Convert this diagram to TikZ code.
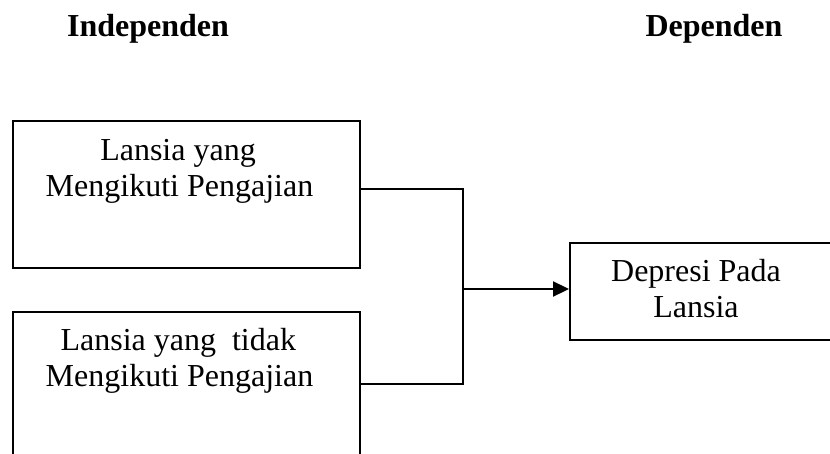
\documentclass[tikz,border=0pt]{standalone}
\usepackage{fontspec}
\setmainfont{Liberation Serif}
\usetikzlibrary{arrows.meta}
\begin{document}
\begin{tikzpicture}[x=1pt,y=-1pt,
  boxframe/.style={draw, line width=2pt, inner sep=0pt, anchor=north west},
  label/.style={anchor=base, inner sep=0pt, font=\fontsize{32}{36.5}\selectfont},
  head/.style={anchor=base, inner sep=0pt, font=\fontsize{32}{36.5}\selectfont\bfseries},
  link/.style={line width=2.3pt},
]
\useasboundingbox (0,0) rectangle (830,454);
\clip (0,0) rectangle (830,454);
% headers
\node[head] (hind) at (148,37) {Independen};
\node[head] (hdep) at (714,37) {Dependen};
% boxes
\node[boxframe, minimum width=347pt, minimum height=147pt] (box1) at (12,120) {};
\node[boxframe, minimum width=347pt, minimum height=200pt] (box2) at (12,311) {};
\node[boxframe, minimum width=340pt, minimum height=97pt] (box3) at (569,242) {};
% texts
\node[label] (t1a) at (178,160.7) {Lansia yang};
\node[label] (t1b) at (179.5,196.7) {Mengikuti Pengajian};
\node[label] (t2a) at (178.3,350.7) {Lansia yang\ \ tidak};
\node[label] (t2b) at (179.5,386.7) {Mengikuti Pengajian};
\node[label] (t3a) at (696,281.7) {Depresi Pada};
\node[label] (t3b) at (696,318) {Lansia};
% connectors
\coordinate (j1) at (463,189);
\coordinate (j2) at (463,384);
\coordinate (jm) at (463,289);
\draw[link] (box1.east |- j1) -- (j1) -- (j2) -- (box2.east |- j2);
\draw[link, -{Triangle[length=16pt,width=15pt]}] (jm) -- (jm -| box3.west);
\end{tikzpicture}
\end{document}
